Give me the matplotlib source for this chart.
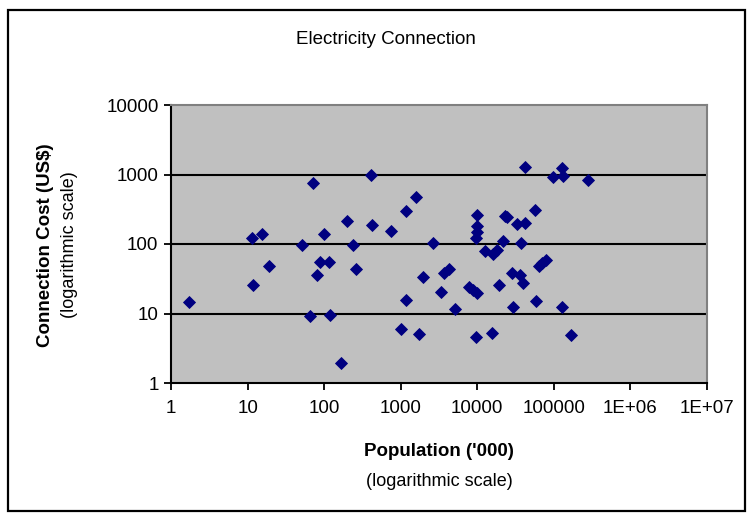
from matplotlib import pyplot as plt
from matplotlib.patches import Rectangle

# Population ('000) and connection cost (US$)
population = [1.7, 11.5, 15.5, 11.7, 19, 51, 72, 81, 66, 89,
              101, 114, 118, 165, 196, 237, 261, 406, 427, 756,
              1000, 1186, 1186, 1570, 1734, 1955, 2610, 3320, 3660, 4300,
              5060, 7900, 8800, 9800, 9600, 10000, 10000, 10000, 9700, 12600,
              16100, 17900, 15800, 19100, 21800, 23000, 24500, 28000, 36000, 39800,
              28900, 32600, 41800, 36700, 41800, 56500, 57700, 64000, 70000, 78000,
              96200, 126000, 132000, 126000, 165000, 280000]
cost = [14.5, 122, 139, 26, 48, 98, 750, 36, 9.2, 56,
        139, 55, 9.6, 1.95, 215, 98, 43, 990, 190, 154,
        5.9, 296, 15.9, 482, 5.1, 34, 102, 20.6, 38.7, 43.3,
        11.7, 24, 22, 19.5, 4.6, 261, 181, 150, 122, 80,
        72, 82, 5.3, 25.7, 112, 250, 245, 38.7, 35.8, 27.2,
        12.5, 194, 203, 105, 1295, 308, 15.3, 49, 54, 59,
        930, 1228, 951, 12.5, 4.9, 833]

x_ticks = [1, 10, 100, 1000, 10000, 100000, 1e6, 1e7]
x_labels = ['1', '10', '100', '1000', '10000', '100000', '1E+06', '1E+07']
y_ticks = [1, 10, 100, 1000, 10000]
y_labels = ['1', '10', '100', '1000', '10000']

plt.rcParams['font.family'] = ['Liberation Sans', 'DejaVu Sans']

fig = plt.figure(figsize=(7.53, 5.19), dpi=100)

# outer frame round the chart
fig.patches.append(Rectangle((8 / 753, 1 - 511 / 519), 737 / 753, 501 / 519,
                             transform=fig.transFigure, fill=False,
                             edgecolor='black', linewidth=1.6))

ax = fig.add_axes([171 / 753, 1 - 383 / 519, 536 / 753, 278 / 519])
ax.set_facecolor('#C0C0C0')
ax.set_xscale('log')
ax.set_yscale('log')
ax.set_xlim(1, 1e7)
ax.set_ylim(1, 10000)

for v in y_ticks[1:-1]:
    ax.axhline(v, color='black', linewidth=1.5, zorder=1)

ax.plot(population, cost, linestyle='none', marker='D', markersize=6.3,
        color='#000080', markeredgecolor='#000080', markeredgewidth=0.6,
        zorder=3)

ax.set_xticks(x_ticks)
ax.set_xticklabels(x_labels)
ax.set_yticks(y_ticks)
ax.set_yticklabels(y_labels)
ax.minorticks_off()
ax.tick_params(direction='out', length=5, width=1.3, labelsize=13.5,
               pad=7, colors='black')
ax.tick_params(axis='y', pad=4)

for side in ['left', 'bottom']:
    ax.spines[side].set_color('black')
    ax.spines[side].set_linewidth(1.5)
for side in ['top', 'right']:
    ax.spines[side].set_color('#808080')
    ax.spines[side].set_linewidth(1.5)

fig.text(386 / 753, 1 - 40 / 519, 'Electricity Connection', ha='center',
         va='center', fontsize=13.5)

fig.text(439 / 753, 1 - 452 / 519, "Population ('000)", ha='center',
         va='center', fontsize=13.5, fontweight='bold')
fig.text(439 / 753, 1 - 481 / 519, '(logarithmic scale)', ha='center',
         va='center', fontsize=13)

fig.text(46 / 753, 1 - 245 / 519, 'Connection Cost (US$)', ha='center',
         va='center', rotation=90, fontsize=13.5, fontweight='bold')
fig.text(70 / 753, 1 - 245 / 519, '(logarithmic scale)', ha='center',
         va='center', rotation=90, fontsize=13)

plt.savefig('out.png', dpi=100)
